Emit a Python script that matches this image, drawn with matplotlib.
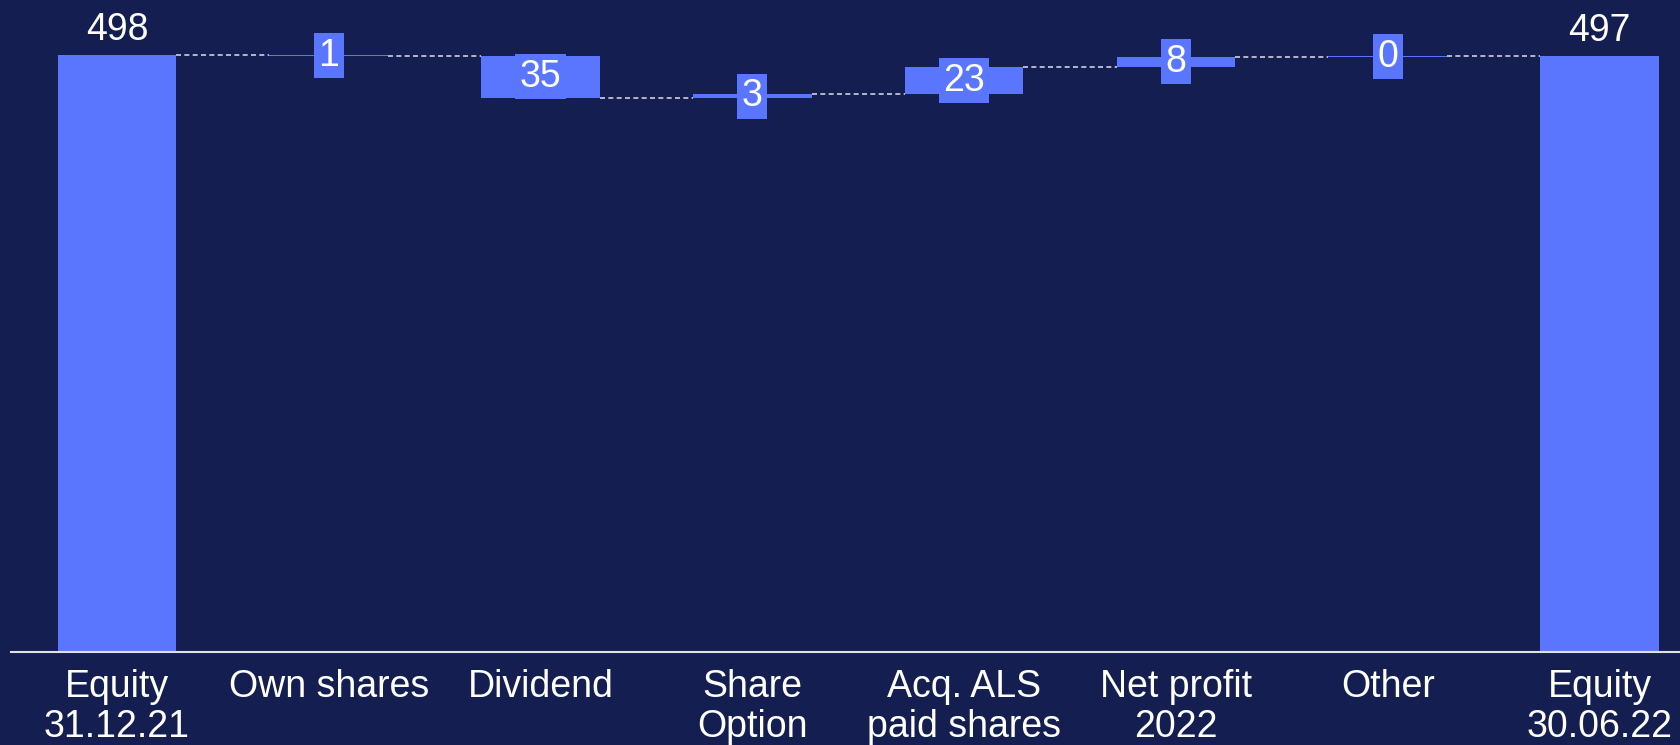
import numpy as np
import matplotlib
matplotlib.use("Agg")
import matplotlib.pyplot as plt

plt.rcParams['font.family'] = ['Liberation Sans', 'DejaVu Sans']

# data
categories = ["Equity\n31.12.21", "Own shares", "Dividend", "Share\nOption",
              "Acq. ALS\npaid shares", "Net profit\n2022", "Other", "Equity\n30.06.22"]
start_value = 497.8
changes = [-0.6, -34.8, 2.8, 22.9, 8.4, 0.4]

bg = "#141e50"
bar_c = "#5a76fe"
line_c = "#d0d2de"
fs = 27

fig = plt.figure(figsize=(16.8, 7.45), dpi=100, facecolor=bg)
ax = fig.add_axes([11 / 1680, 1 - 652 / 745, 1 - 11 / 1680, 652 / 745])
ax.set_facecolor(bg)

w = 0.56
x = np.arange(len(categories))
levels = [start_value]
for c in changes:
    levels.append(levels[-1] + c)
end_value = levels[-1]

# totals
ax.bar([x[0], x[-1]], [start_value, end_value], width=w, color=bar_c)
for xi, v in [(x[0], start_value), (x[-1], end_value)]:
    ax.text(xi, v + 6, f"{v:.0f}", ha="center", va="bottom", color="white", fontsize=fs)

# changes
for i, c in enumerate(changes):
    xi = x[i + 1]
    lo = min(levels[i], levels[i + 1])
    h = max(abs(c), 0.9)
    ax.bar(xi, h, bottom=lo, width=w, color=bar_c)
    ax.text(xi, lo + abs(c) / 2, f"{abs(c):.0f}", ha="center", va="center",
            color="white", fontsize=fs,
            bbox=dict(boxstyle="square,pad=0.12", fc=bar_c, ec="none"))

# connectors
for i in range(len(categories) - 1):
    ax.plot([x[i] + w / 2, x[i + 1] - w / 2], [levels[min(i, len(levels) - 1)]] * 2,
            color=line_c, lw=1.2, ls=(0, (3, 2)), zorder=1)

ax.set_xlim(-0.5, 7.38)
ax.set_ylim(0, 544)
ax.set_xticks(x)
ax.set_xticklabels(categories, color="white", fontsize=fs, linespacing=1.15)
ax.tick_params(axis="x", length=0, pad=12)
ax.set_yticks([])
for s in ["top", "right", "left"]:
    ax.spines[s].set_visible(False)
ax.spines["bottom"].set_color("#e0e0ea")
ax.spines["bottom"].set_linewidth(1.5)

fig.savefig("out.png", facecolor=bg)
